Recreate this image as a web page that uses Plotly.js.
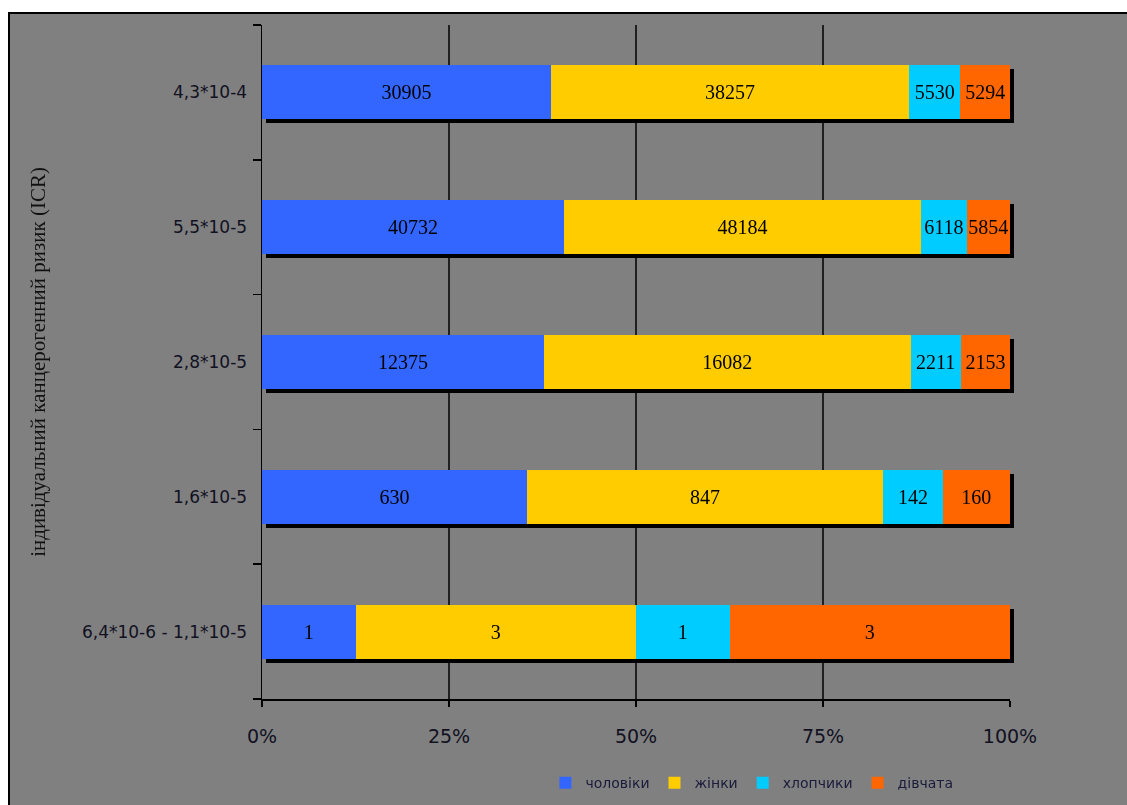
<!DOCTYPE html>
<html>
<head>
<meta charset="utf-8">
<script src="https://cdn.plot.ly/plotly-3.0.1.min.js"></script>
<style>
  html, body { margin: 0; padding: 0; background: #ffffff; }
  #frame {
    position: absolute; left: 8px; top: 12px;
    width: 1117px; height: 791px;
    border-left: 2px solid #000; border-top: 2px solid #000;
    background: #808080;
  }
  #chart { width: 1117px; height: 791px; }
  /* hard black drop shadow under the stacked bars */
  #chart .barlayer { filter: url(#barShadow); }
</style>
</head>
<body>
<svg width="0" height="0" style="position:absolute">
  <defs>
    <filter id="barShadow" x="-5%" y="-5%" width="115%" height="130%">
      <feOffset in="SourceAlpha" dx="4" dy="4" result="off"/>
      <feFlood flood-color="#000000"/>
      <feComposite in2="off" operator="in" result="shadow"/>
      <feMerge>
        <feMergeNode in="shadow"/>
        <feMergeNode in="SourceGraphic"/>
      </feMerge>
    </filter>
  </defs>
</svg>
<div id="frame"><div id="chart"></div></div>
<script>
// Risk levels (bottom to top)
const riskLevels = ['6,4*10-6 - 1,1*10-5', '1,6*10-5', '2,8*10-5', '5,5*10-5', '4,3*10-4'];

// Population counts per group at each risk level
const men   = [1, 630, 12375, 40732, 30905];
const women = [3, 847, 16082, 48184, 38257];
const boys  = [1, 142, 2211, 6118, 5530];
const girls = [3, 160, 2153, 5854, 5294];

const groupNames  = ['чоловіки', 'жінки', 'хлопчики', 'дівчата'];
const groupColors = ['#3366FF', '#FFCC00', '#00CCFF', '#FF6600'];
const groupValues = [men, women, boys, girls];

const xTicks = [0, 25, 50, 75, 100];
const gridPercents = [25, 50, 75];

const traces = groupValues.map((vals, i) => ({
  type: 'bar',
  orientation: 'h',
  name: groupNames[i],
  y: riskLevels,
  x: vals,
  text: vals.map(String),
  textposition: 'inside',
  insidetextanchor: 'middle',
  textangle: 0,
  constraintext: 'none',
  cliponaxis: false,
  insidetextfont: { family: 'Liberation Serif, serif', size: 20, color: '#000000' },
  marker: { color: groupColors[i], line: { width: 0 } },
  hoverinfo: 'skip'
}));

const layout = {
  width: 1117,
  height: 791,
  paper_bgcolor: '#808080',
  plot_bgcolor: '#808080',
  margin: { l: 252, r: 117, t: 11, b: 106, pad: 0, autoexpand: false },
  barmode: 'stack',
  barnorm: 'percent',
  bargap: 0.6,
  showlegend: true,
  hovermode: false,
  font: { family: 'DejaVu Sans, sans-serif', color: '#111111' },
  xaxis: {
    range: [0, 100],
    tickvals: xTicks,
    ticktext: xTicks.map(v => v + '%'),
    showgrid: false,
    zeroline: false,
    showline: true,
    linecolor: '#000000',
    linewidth: 1.5,
    ticks: 'outside',
    ticklen: 6,
    tickwidth: 1.5,
    tickcolor: '#000000',
    ticklabelstandoff: 14,
    tickfont: { family: 'DejaVu Sans, sans-serif', size: 19, color: '#111122' },
    fixedrange: true
  },
  yaxis: {
    type: 'category',
    categoryorder: 'array',
    categoryarray: riskLevels,
    tickson: 'boundaries',
    showgrid: false,
    zeroline: false,
    showline: true,
    linecolor: '#000000',
    linewidth: 1.5,
    ticks: 'outside',
    ticklen: 8,
    tickwidth: 1.5,
    tickcolor: '#000000',
    ticklabelstandoff: 10,
    tickfont: { family: 'DejaVu Sans, sans-serif', size: 17, color: '#111122' },
    title: {
      text: 'індивідуальний канцерогенний ризик (ICR)',
      font: { family: 'Liberation Serif, serif', size: 21, color: '#111111' },
      standoff: 30
    },
    fixedrange: true
  },
  legend: {
    orientation: 'h',
    traceorder: 'normal',
    x: 0.655,
    xanchor: 'center',
    y: -0.125,
    yanchor: 'middle',
    bgcolor: 'rgba(0,0,0,0)',
    itemwidth: 30,
    font: { family: 'DejaVu Sans, sans-serif', size: 14, color: '#1a1a3a' }
  },
  shapes: gridPercents.map(p => ({
    type: 'line',
    xref: 'x', yref: 'paper',
    x0: p, x1: p, y0: 0, y1: 1,
    line: { color: '#000000', width: 1.5 },
    layer: 'below'
  }))
};

Plotly.newPlot('chart', traces, layout, { displayModeBar: false, staticPlot: true });
</script>
</body>
</html>
